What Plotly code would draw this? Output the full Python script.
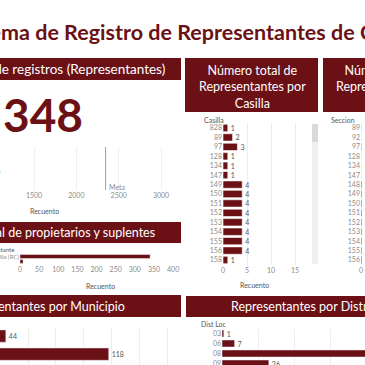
import plotly.graph_objects as go

W = H = 365
def px(x): return x / W
def py(y): return 1 - y / H

MAROON = "#6b1116"
GRAY = "#8c8c8c"
DARK = "#555555"
GRID = "#eeeeee"
FONT = "Lato"

# ---------------- data ----------------
title_text = "Sistema de Registro de Representantes de Casilla"
kpi_label = ["Representantes de Casilla"]
total_registros = [348]
meta_value = 2345
bullet_ticks = [1500, 2000, 2500, 3000]

casillas = ["828", "89", "97", "128", "134", "147", "149", "150", "151", "152", "153", "154", "155", "156", "158"]
casilla_vals = [1, 2, 3, 1, 1, 1, 4, 4, 4, 4, 4, 4, 4, 4, 1]
casilla_ticks = [0, 5, 10, 15]

secciones = ["89", "92", "97", "128", "134", "147", "148", "149", "150", "151", "152", "153", "154", "155", "156"]
seccion_vals = [2, 1, 3, 1, 1, 1, 4, 4, 4, 4, 4, 4, 4, 4, 4]

tipos = ["Representante de Casilla (RC)", "Representante General (RG)"]
tipo_vals = [340, 8]
tipo_ticks = [0, 50, 100, 150, 200, 250, 300, 350, 400]

municipios = ["Municipio 1", "Municipio 2"]
municipio_vals = [44, 118]

distritos = ["03", "06", "08", "09"]
distrito_vals = [1, 7, 98, 26]

fig = go.Figure()

# Panel 1: bullet
fig.add_trace(go.Bar(x=total_registros, y=kpi_label, orientation="h", xaxis="x", yaxis="y",
                     marker=dict(color=MAROON), showlegend=False, hoverinfo="skip"))
# Panel 2: casilla
fig.add_trace(go.Bar(x=casilla_vals, y=casillas, orientation="h", xaxis="x2", yaxis="y2",
                     marker=dict(color=MAROON, line=dict(color="white", width=0.6)), width=0.78,
                     text=casilla_vals, textposition="outside", constraintext="none", cliponaxis=False,
                     textfont=dict(size=7, color=DARK, family=FONT), showlegend=False))
# Panel 3: seccion
fig.add_trace(go.Bar(x=seccion_vals, y=secciones, orientation="h", xaxis="x3", yaxis="y3",
                     marker=dict(color=MAROON, line=dict(color="white", width=0.6)), width=0.78,
                     showlegend=False))
# Panel 4: tipo
fig.add_trace(go.Bar(x=tipo_vals, y=tipos, orientation="h", xaxis="x4", yaxis="y4",
                     marker=dict(color=MAROON), width=0.8, showlegend=False))
# Panel 5: municipio
fig.add_trace(go.Bar(x=municipio_vals, y=municipios, orientation="h", xaxis="x5", yaxis="y5",
                     marker=dict(color=MAROON), width=0.68,
                     text=municipio_vals, textposition="outside", constraintext="none", cliponaxis=False,
                     textfont=dict(size=7, color=DARK, family=FONT), showlegend=False))
# Panel 6: distrito
fig.add_trace(go.Bar(x=distrito_vals, y=distritos, orientation="h", xaxis="x6", yaxis="y6",
                     marker=dict(color=MAROON), width=0.7,
                     text=distrito_vals, textposition="outside", constraintext="none", cliponaxis=False,
                     textfont=dict(size=7, color=DARK, family=FONT), showlegend=False))

tickf = dict(size=7, color=GRAY, family=FONT)

def cat_axis(domain_top, domain_bottom, n_top, n_bottom, show=True):
    return dict(domain=[py(domain_bottom), py(domain_top)], type="category",
                range=[n_bottom, n_top], showgrid=False, zeroline=False, automargin=False,
                showticklabels=show, tickfont=tickf, ticks="", ticklen=0, fixedrange=True)

layout = dict(
    width=W, height=H, margin=dict(l=0, r=0, t=0, b=0, pad=0, autoexpand=False),
    paper_bgcolor="white", plot_bgcolor="white",
    font=dict(family=FONT), bargap=0.2,
    # Panel 1
    xaxis=dict(domain=[px(0), px(180)], range=[1098, 3224], tickvals=bullet_ticks, automargin=False,
               showgrid=True, gridcolor="#f0f0f0", zeroline=False, tickfont=tickf, fixedrange=True),
    yaxis=dict(domain=[py(190), py(147)], showticklabels=False, showgrid=False, zeroline=False,
               automargin=False, fixedrange=True),
    # Panel 2
    xaxis2=dict(domain=[px(223), px(310)], range=[0, 18.1], anchor="y2", tickvals=casilla_ticks,
                automargin=False,
                showgrid=True, gridcolor=GRID, zeroline=False, tickfont=tickf, fixedrange=True),
    yaxis2=dict(anchor="x2", **cat_axis(123.3, 264.7, -0.5, 14.5)),
    # Panel 3
    xaxis3=dict(domain=[px(361), px(365)], range=[0, 18], anchor="y3", tickvals=[0], automargin=False,
                showgrid=False, zeroline=False, tickfont=tickf, fixedrange=True),
    yaxis3=dict(anchor="x3", **cat_axis(123.3, 264.7, -0.5, 14.5)),
    # Panel 4
    xaxis4=dict(domain=[px(20), px(180)], range=[0, 418], anchor="y4", tickvals=tipo_ticks,
                automargin=False,
                showgrid=False, zeroline=False, tickfont=tickf, fixedrange=True),
    yaxis4=dict(anchor="x4", **cat_axis(254, 264, -0.5, 1.5)),
    # Panel 5
    xaxis5=dict(domain=[px(0), px(181)], range=[39.8, 170], anchor="y5", dtick=20, tick0=0,
                automargin=False,
                showgrid=True, gridcolor=GRID, zeroline=False, showticklabels=False, fixedrange=True),
    yaxis5=dict(anchor="x5", **cat_axis(327, 365, -0.5, 1.6)),
    # Panel 6
    xaxis6=dict(domain=[px(222), px(365)], range=[0, 79.4], anchor="y6", dtick=20, tick0=0,
                automargin=False,
                showgrid=True, gridcolor=GRID, zeroline=False, showticklabels=False, fixedrange=True),
    yaxis6=dict(anchor="x6", **cat_axis(328.5, 365, -0.5, 3.15)),
)
layout["yaxis4"]["tickfont"] = dict(size=6, color=GRAY, family=FONT)
fig.update_layout(**layout)

shapes = []
def box(x0, y0, x1, y1):
    shapes.append(dict(type="rect", xref="paper", yref="paper", x0=px(x0), x1=px(x1),
                       y0=py(y1), y1=py(y0), fillcolor=MAROON, line=dict(width=0), layer="below"))
box(-10, 58, 181, 80)
box(185, 58, 318, 112)
box(323, 58, 460, 112)
box(-10, 222, 181, 243)
box(-10, 295, 181, 317)
box(186, 296, 460, 317)
# scrollbar
shapes.append(dict(type="rect", xref="paper", yref="paper", x0=px(312), x1=px(318), y0=py(264), y1=py(124),
                   fillcolor="#f0f0f0", line=dict(width=0)))
shapes.append(dict(type="rect", xref="paper", yref="paper", x0=px(312), x1=px(318), y0=py(142), y1=py(124),
                   fillcolor="#d9d9d9", line=dict(width=0)))
# meta line
shapes.append(dict(type="line", xref="x", yref="y domain", x0=meta_value, x1=meta_value, y0=0, y1=1,
                   line=dict(color="#a0a0a0", width=1)))
fig.update_layout(shapes=shapes)

ann = []
def text(x, y, s, size=7, color=DARK, xanchor="left", weight="normal", yanchor="middle"):
    ann.append(dict(xref="paper", yref="paper", x=px(x), y=py(y), text=s, showarrow=False,
                    xanchor=xanchor, yanchor=yanchor, align="center",
                    font=dict(size=size, color=color, family=FONT, weight=weight)))

text(-47, 32, title_text, size=21.5, color=MAROON, weight="bold")
text(167, 69, "Número total de registros (Representantes)", size=13.5, color="white", xanchor="right")
text(252, 87, "Número total de<br>Representantes por<br>Casilla", size=12.5, color="white", xanchor="center")
text(389.5, 87, "Número total de<br>Representantes por<br>Sección", size=12.5, color="white", xanchor="center")
text(157, 232.5, "Número total de propietarios y suplentes", size=12.5, color="white", xanchor="right")
text(127, 306, "Número de Representantes por Municipio", size=12.5, color="white", xanchor="right")
text(229, 306.5, "Representantes por Distrito Local", size=12.5, color="white", xanchor="left")

text(1, 114, f"{total_registros[0]:,}", size=46, color=MAROON, weight="bold")
text(3, 171, kpi_label[0], size=7, color=GRAY, xanchor="right")
text(107, 187, "Meta", size=7, color=GRAY)
text(44, 211, "Recuento", size=7, color=DARK, xanchor="center")

text(202, 120, "Casilla", size=7, color=DARK)
text(254, 285, "Recuento", size=7, color=DARK, xanchor="center")
text(357, 120, "Seccion", size=7, color=DARK, xanchor="right")
text(16, 249, "Tipo Representante", size=6, color=DARK, xanchor="right")
text(100, 286, "Recuento", size=7, color=DARK, xanchor="center")
text(199, 324, "Dist Loc", size=7, color=DARK)
fig.update_layout(annotations=ann)

fig.write_html("out.html", config={"displayModeBar": False},
               post_script="document.body.style.margin='0';document.body.style.overflow='hidden';")
